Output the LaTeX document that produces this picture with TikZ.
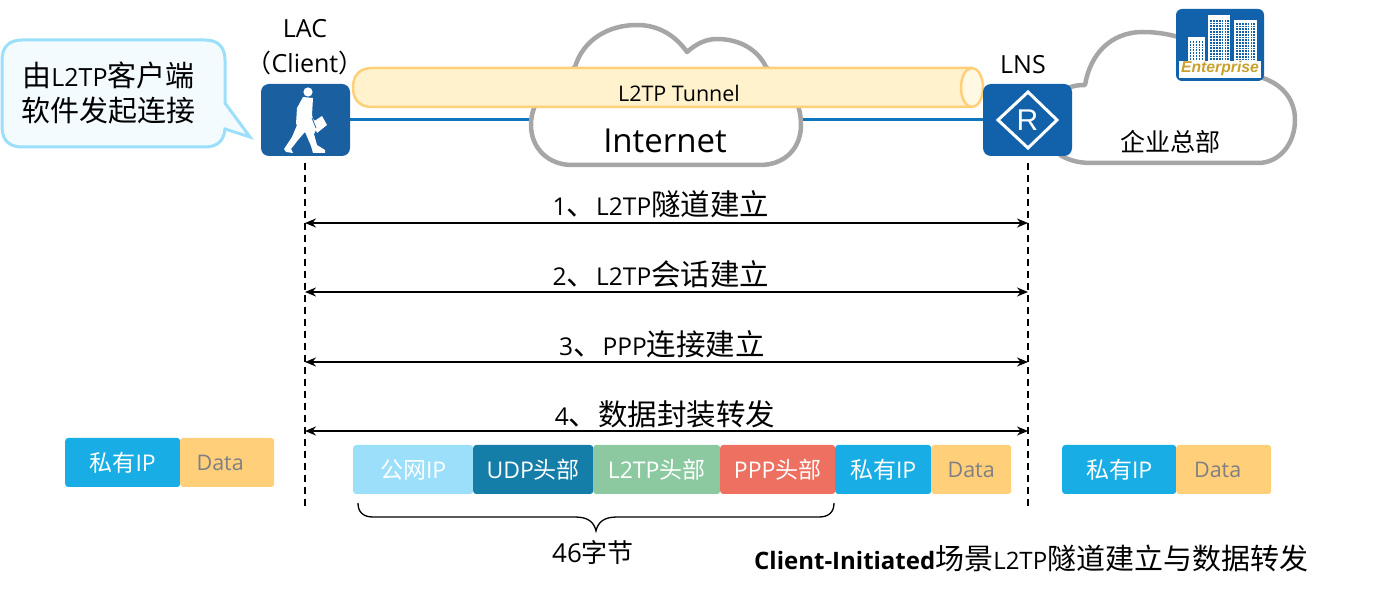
\documentclass[tikz,border=0pt]{standalone}
\usepackage{fontspec}
\setmainfont{Open Sans}
\newfontfamily\cjk{Noto Sans CJK SC}
\newfontfamily\entfont{Liberation Sans}
\usetikzlibrary{arrows.meta}
\newcommand{\zh}[1]{{\cjk #1}}
\newcommand{\fs}[1]{\fontsize{#1}{\dimexpr #1pt*6/5\relax}\selectfont}
\definecolor{cloudgray}{HTML}{A6A6A6}
\definecolor{tunfill}{HTML}{FFF2CC}
\definecolor{tunedge}{HTML}{FFCF7A}
\definecolor{iconblue}{HTML}{1A5FA0}
\definecolor{routerblue}{HTML}{1262AB}
\definecolor{linkblue}{HTML}{0F75BC}
\definecolor{calloutedge}{HTML}{9BDFFB}
\definecolor{calloutfill}{HTML}{F3FBFF}
\definecolor{pubip}{HTML}{9BDFFB}
\definecolor{udp}{HTML}{147EA8}
\definecolor{ltp}{HTML}{8CC9A1}
\definecolor{ppp}{HTML}{EE7060}
\definecolor{priv}{HTML}{19ADE5}
\definecolor{datac}{HTML}{FFCF7A}
\definecolor{datatext}{HTML}{7F7F85}
\definecolor{entgold}{HTML}{C8A02C}
\tikzset{
  cloudline/.style={draw=cloudgray,line width=4.5pt,fill=white,line join=round},
  iconbox/.style={rounded corners=8pt,inner sep=0pt,minimum width=89pt,minimum height=72pt},
  field/.style={rounded corners=3pt,inner sep=0pt,minimum height=49pt,anchor=west,text=white,font=\fs{23}},
  datafield/.style={field,fill=datac,text=datatext,font=\fs{21.5}},
  msg/.style={{Stealth[length=11pt,width=9pt]}-{Stealth[length=11pt,width=9pt]},line width=1.5pt,black},
  lifeline/.style={line width=1.6pt,black,dash pattern=on 7pt off 5pt},
  lbl/.style={inner sep=0pt,text=black},
}
\begin{document}
\begin{tikzpicture}[x=1pt,y=-1pt]
\useasboundingbox (0,0) rectangle (1377,593);
% blue link
\coordinate (linkA) at (350,120);
\coordinate (linkB) at (983,120);
\draw[linkblue,line width=3pt] (linkA) -- (linkB);
% Internet cloud
\draw[cloudline] (572,165) .. controls (548,165) and (531,148) .. (531,125)
  .. controls (531,100) and (548,85) .. (575,67)
  .. controls (583,40) and (608,25) .. (637,25)
  .. controls (658,25) and (675,35) .. (687,52)
  .. controls (697,43) and (707,39) .. (717,39)
  .. controls (740,39) and (758,50) .. (766,67)
  .. controls (788,85) and (801,100) .. (801,125)
  .. controls (801,148) and (785,165) .. (760,165) -- cycle;
% Enterprise cloud
\draw[cloudline] (1060,155) .. controls (1070,161) and (1080,163) .. (1092,163)
  -- (1258,163) .. controls (1280,163) and (1295,143) .. (1295,120)
  .. controls (1295,100) and (1283,85) .. (1263,78)
  .. controls (1240,60) and (1225,50) .. (1200,45)
  .. controls (1185,38) and (1165,32) .. (1143,32)
  .. controls (1110,32) and (1090,55) .. (1085,85)
  .. controls (1075,85) and (1068,87) .. (1060,92) -- cycle;
% tunnel
\draw[draw=tunedge,fill=tunfill,line width=2.5pt] (972,68) -- (372,68) .. controls (359,68) and (353,76) .. (353,87.5)
  .. controls (353,99) and (359,107) .. (372,107) -- (972,107);
\draw[draw=tunedge,fill=tunfill!55!white,line width=2.5pt] (972,87.5) ellipse [x radius=11,y radius=19.5];
\node[lbl,font=\fs{21.5}] (tunnel) at (679,93) {L2TP Tunnel};
\node[lbl,font=\fs{33}] (internet) at (665,141) {Internet};
% LAC
\node[iconbox,fill=iconblue] (lac) at (305.5,120) {};
\fill[white] (308,92) circle (4.6);
\fill[white] (303,97) -- (313,98) -- (312,115) -- (313,119) -- (316,122) -- (318,126) -- (314,134) -- (317,145) -- (325,150) -- (325,153) -- (313,153) -- (311,146) -- (305,132) -- (298,140) -- (291,149) -- (293,153) -- (286,152) -- (284,149) -- (292,137) -- (297,125) -- (296,124) -- (297,108) -- cycle;
\fill[white] (313,122) -- (322,116) -- (327,125) -- (317,133) -- cycle;
\draw[iconblue,line width=0.8pt] (312,118) -- (316,128);
\node[lbl,font=\fs{25}] (lacname) at (305,29) {LAC};
\node[lbl,font=\fs{25}] (lacclient) at (305,63) {\zh{（}Client\zh{）}};
% LNS
\node[iconbox,fill=routerblue] (lns) at (1027.5,120) {};
\draw[white,line width=3pt,line join=miter] (1028,92) -- (1057,120) -- (1028,148) -- (998,120) -- cycle;
\node[lbl,font=\entfont\fs{30},text=white] (rlabel) at (1027.5,120) {R};
\node[lbl,font=\fs{25}] (lnsname) at (1023,65) {LNS};
% Enterprise icon
\fill[routerblue,rounded corners=6pt] (1176,9) rectangle (1264,81);
\fill[white] (1188,37) rectangle (1205,61);
\fill[white] (1208,15) rectangle (1230,61);
\fill[white] (1234,20) rectangle (1257,61);
\foreach \r in {0,...,6}{\foreach \c in {0,...,4}{
  \fill[routerblue] ({1189.5+\c*3},{41+\r*2.8}) rectangle ++(1.9,1.8);}}
\foreach \r in {0,...,14}{\foreach \c in {0,...,6}{
  \fill[routerblue] ({1210+\c*2.9},{20+\r*2.75}) rectangle ++(1.8,1.7);}}
\foreach \r in {0,...,13}{\foreach \c in {0,...,6}{
  \fill[routerblue] ({1236+\c*2.9},{23+\r*2.75}) rectangle ++(1.8,1.7);}}
\fill[white] (1179,61) rectangle (1261,78);
\node[inner sep=0pt,font=\entfont\fs{15.7}\bfseries\itshape,text=entgold] (ent) at (1220,68.5) {Enterprise};
\node[lbl,font=\fs{25}\cjk] (hq) at (1170,142) {企业总部};
% callout
\draw[draw=calloutedge,fill=calloutfill,line width=3pt,line join=miter]
  (22,40) -- (205,40) .. controls (218,40) and (225,47) .. (225,60) -- (225,103)
  -- (250,137) -- (225,129) .. controls (224,140) and (218,147) .. (205,147)
  -- (22,147) .. controls (9,147) and (2,140) .. (2,127) -- (2,60) .. controls (2,47) and (9,40) .. (22,40) -- cycle;
\node[lbl,align=center,font=\fs{29}] (calltext) at (108.5,93) {\zh{由}{\fs{25}L2TP}\zh{客户端}\\[0pt]\zh{软件发起连接}};
% lifelines
\coordinate (lacEnd) at (305,507);
\coordinate (lnsEnd) at (1028,507);
\draw[lifeline] (lac.south) ++(-0.5,7) -- (lacEnd);
\draw[lifeline] (lns.south) ++(0.5,7) -- (lnsEnd);
% messages
\foreach \n/\y in {a/223,b/292,c/362,d/431}{
  \coordinate (l\n) at (305,\y);
  \coordinate (r\n) at (1028,\y);
  \draw[msg] (l\n) -- (r\n);
}
\node[lbl,font=\fs{24.5}] (m1) at (661,204) {1\zh{\fs{29.5}、}L2TP\zh{\fs{29.5}隧道建立}};
\node[lbl,font=\fs{24.5}] (m2) at (661,274) {2\zh{\fs{29.5}、}L2TP\zh{\fs{29.5}会话建立}};
\node[lbl,font=\fs{24.5}] (m3) at (662,344) {3\zh{\fs{29.5}、}PPP\zh{\fs{29.5}连接建立}};
\node[lbl,font=\fs{24.5}] (m4) at (665,414) {4\zh{\fs{29.5}、数据封装转发}};
% left packet
\node[field,fill=priv,minimum width=115pt] (lp) at (65,462.5) {\zh{私有}IP};
\node[datafield,minimum width=94pt] (ld) at (180,462.5) {\hspace*{-14pt}Data};
% middle packet
\node[field,fill=pubip,minimum width=120pt] (f1) at (353,469.5) {\zh{公网}IP};
\node[field,fill=udp,minimum width=120pt] (f2) at (473,469.5) {UDP\zh{头部}};
\node[field,fill=ltp,minimum width=127pt] (f3) at (593,469.5) {L2TP\zh{头部}};
\node[field,fill=ppp,minimum width=115pt] (f4) at (720,469.5) {PPP\zh{头部}};
\node[field,fill=priv,minimum width=96pt] (f5) at (835,469.5) {\zh{私有}IP};
\node[datafield,minimum width=80pt] (f6) at (931,469.5) {Data};
% right packet
\node[field,fill=priv,minimum width=114pt] (rp) at (1062,469.5) {\zh{私有}IP};
\node[datafield,minimum width=95pt] (rd) at (1176,469.5) {\hspace*{-12pt}Data};
% brace
\draw[black,line width=1.3pt] (358,503) .. controls (358,512) and (363,517) .. (373,517)
  -- (575,517) .. controls (588,517) and (594,522) .. (596,531)
  .. controls (598,522) and (604,517) .. (617,517) -- (819,517)
  .. controls (829,517) and (834,512) .. (834,503);
\node[lbl,font=\fs{26}] (bytes) at (593,553) {46\zh{字节}};
\node[lbl,anchor=west,font=\fs{24}] (caption) at (754,558) {\textbf{Client-Initiated}\zh{\fs{29}场景}L2TP\zh{\fs{29}隧道建立与数据转发}};
\end{tikzpicture}
\end{document}
